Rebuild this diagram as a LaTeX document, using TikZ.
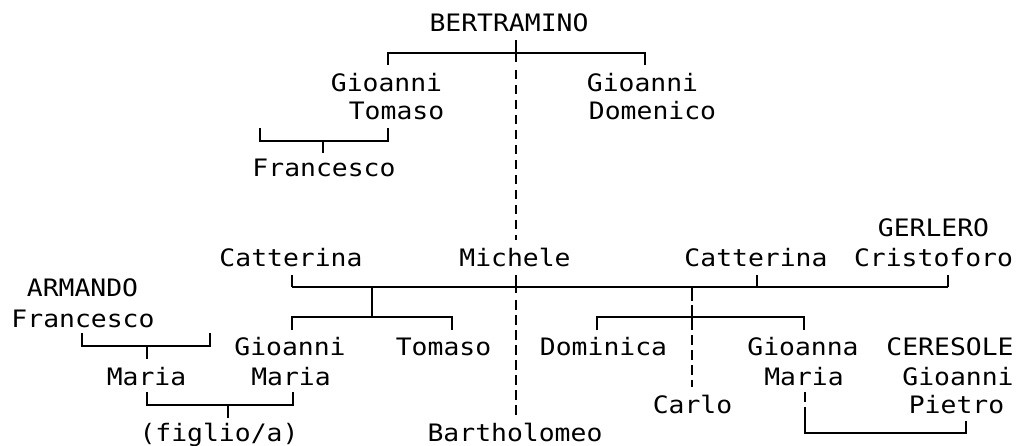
\documentclass[tikz,border=0pt]{standalone}
\usepackage{fontspec}
\newfontfamily\treemono[FakeStretch=1.1]{DejaVu Sans Mono}
\tikzset{
  lbl/.style={font=\treemono\fontsize{24}{28}\selectfont, inner sep=0pt, anchor=base},
  link/.style={line width=2pt},
  dlink/.style={line width=2pt, dash pattern=on 9.5pt off 5.5pt},
}
\begin{document}
\begin{tikzpicture}[x=1pt,y=-1pt]
\useasboundingbox (0,0) rectangle (1025,446);
% names
\node[lbl] (bert) at (509,32) {BERTRAMINO};
\node[lbl] (gt1) at (386.5,92) {Gioanni};
\node[lbl] (gt2) at (396.5,120) {Tomaso};
\node[lbl] (gd1) at (642.5,92) {Gioanni};
\node[lbl] (gd2) at (652.5,120) {Domenico};
\node[lbl] (fra) at (324,177) {Francesco};
\node[lbl] (cat1) at (291,267) {Catterina};
\node[lbl] (mic) at (515,267) {Michele};
\node[lbl] (cat2) at (756,267) {Catterina};
\node[lbl] (ger1) at (933.5,237) {GERLERO};
\node[lbl] (ger2) at (933.5,267) {Cristoforo};
\node[lbl] (arm1) at (82.5,297) {ARMANDO};
\node[lbl] (arm2) at (83,327) {Francesco};
\node[lbl] (gm1) at (290,355) {Gioanni};
\node[lbl] (gm2) at (291,385) {Maria};
\node[lbl] (tom) at (443.5,355) {Tomaso};
\node[lbl] (mar) at (146.5,385) {Maria};
\node[lbl] (fig) at (219,441) {(figlio/a)};
\node[lbl] (bart) at (515,441) {Bartholomeo};
\node[lbl] (dom) at (603.5,355) {Dominica};
\node[lbl] (ga1) at (803,355) {Gioanna};
\node[lbl] (ga2) at (804,385) {Maria};
\node[lbl] (car) at (692.5,413) {Carlo};
\node[lbl] (cer1) at (950,355) {CERESOLE};
\node[lbl] (cer2) at (958,385) {Gioanni};
\node[lbl] (cer3) at (956.5,413) {Pietro};
% junction coordinates
\coordinate (bTop) at (516,40);
\coordinate (bJ) at (516,53);
\coordinate (bL) at (388,53);
\coordinate (bR) at (645,53);
\coordinate (bLd) at (388,65);
\coordinate (bRd) at (645,65);
\coordinate (bS) at (516,62);
\coordinate (bD1) at (516,70);
\coordinate (bD2) at (516,240);
\coordinate (tL) at (260,128);
\coordinate (tLb) at (260,141);
\coordinate (tR) at (388,128);
\coordinate (tRb) at (388,141);
\coordinate (tM) at (323,141);
\coordinate (tMd) at (323,153);
\coordinate (mU) at (516,275);
\coordinate (mJ) at (516,287);
\coordinate (mS) at (516,293);
\coordinate (mD1) at (516,300);
\coordinate (mD2) at (516,417);
\coordinate (hL) at (292,287);
\coordinate (hLu) at (292,275);
\coordinate (hC) at (757,287);
\coordinate (hCu) at (757,275);
\coordinate (hR) at (948,287);
\coordinate (hRu) at (948,275);
\coordinate (lJ) at (372,287);
\coordinate (lJd) at (372,317);
\coordinate (lL) at (292,317);
\coordinate (lLd) at (292,330);
\coordinate (lR) at (452,317);
\coordinate (lRd) at (452,330);
\coordinate (rJ) at (692,287);
\coordinate (rS) at (692,301);
\coordinate (rD1) at (692,305);
\coordinate (rX1) at (692,313);
\coordinate (rX2) at (692,325);
\coordinate (rD2) at (692,387);
\coordinate (rL) at (597,317);
\coordinate (rLd) at (597,330);
\coordinate (rR) at (804,317);
\coordinate (rRd) at (804,330);
\coordinate (aL) at (82,333);
\coordinate (aLb) at (82,346);
\coordinate (aR) at (210,333);
\coordinate (aRb) at (210,346);
\coordinate (aM) at (147,346);
\coordinate (aMd) at (147,359);
\coordinate (fL) at (147,392);
\coordinate (fLb) at (147,405);
\coordinate (fR) at (293,392);
\coordinate (fRb) at (293,405);
\coordinate (fM) at (228,405);
\coordinate (fMd) at (228,418);
\coordinate (pA) at (805,392);
\coordinate (pB) at (805,417);
\coordinate (pC) at (805,433);
\coordinate (pD) at (966,433);
\coordinate (pE) at (966,421);
% connectors
\draw[link] (bTop) -- (bS);
\draw[link] (bLd) -- (bL) -- (bR) -- (bRd);
\draw[dlink] (bD1) -- (bD2);
\draw[link] (tL) -- (tLb) -- (tRb) -- (tR);
\draw[link] (tM) -- (tMd);
\draw[link] (mU) -- (mS);
\draw[dlink] (mD1) -- (mD2);
\draw[link] (hL) -- (hR);
\draw[link] (hLu) -- (hL);
\draw[link] (hCu) -- (hC);
\draw[link] (hRu) -- (hR);
\draw[link] (lJ) -- (lJd);
\draw[link] (lLd) -- (lL) -- (lR) -- (lRd);
\draw[link] (rJ) -- (rS);
\draw[dlink] (rD1) -- (rD2);
\draw[link] (rX1) -- (rX2);
\draw[link] (rLd) -- (rL) -- (rR) -- (rRd);
\draw[link] (aL) -- (aLb) -- (aRb) -- (aR);
\draw[link] (aM) -- (aMd);
\draw[link] (fL) -- (fLb) -- (fRb) -- (fR);
\draw[link] (fM) -- (fMd);
\draw[dlink] (pA) -- (pB);
\draw[link] (pB) -- (pC) -- (pD) -- (pE);
\end{tikzpicture}
\end{document}
